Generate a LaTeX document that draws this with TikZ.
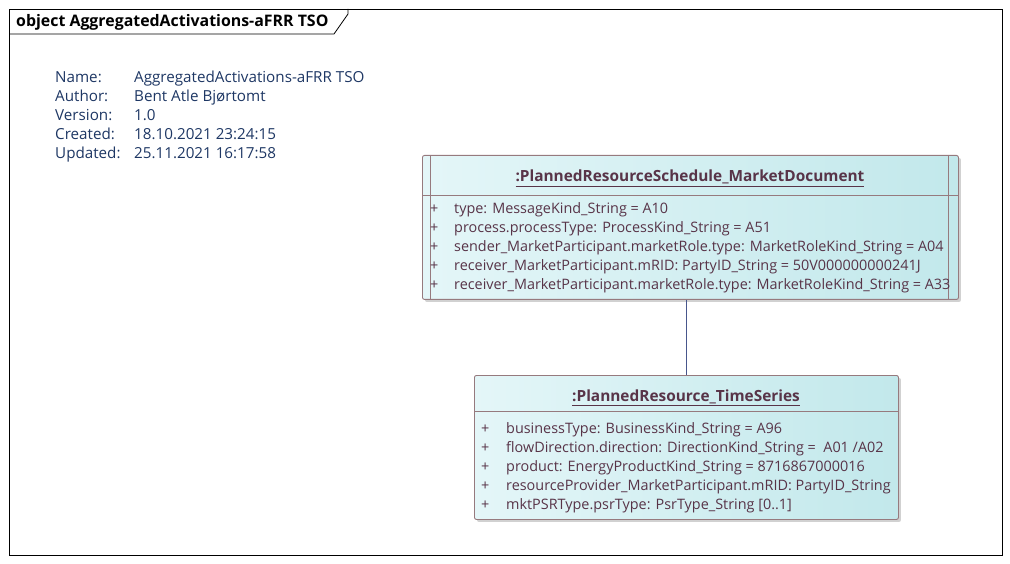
\documentclass[tikz,border=0pt]{standalone}
\usepackage{fontspec}
\setmainfont{Open Sans}
\usepackage{tikz}
\usetikzlibrary{positioning,calc,shadows}
\definecolor{metablue}{RGB}{30,55,100}
\definecolor{attrbrown}{RGB}{88,52,72}
\definecolor{boxedge}{RGB}{150,122,126}
\definecolor{boxleft}{RGB}{228,246,248}
\definecolor{boxright}{RGB}{194,232,235}
\definecolor{linkblue}{RGB}{72,86,140}
\tikzset{
  frame-title/.style={font=\fontsize{15.9}{18}\selectfont\bfseries, anchor=base west, inner sep=0pt},
  meta-text/.style={font=\fontsize{15.2}{18}\selectfont, text=metablue, anchor=base west, inner sep=0pt},
  object-box/.style={draw=boxedge, line width=0.9pt, rounded corners=2pt,
    left color=boxleft, right color=boxright, anchor=north west, inner sep=0pt,
    drop shadow={shadow xshift=2.5pt, shadow yshift=-2.5pt, fill=black!30, opacity=0.6}},
  object-title/.style={font=\fontsize{15.4}{18}\selectfont\bfseries, text=attrbrown, anchor=base, inner sep=0pt},
  attr-text/.style={font=\fontsize{14.4}{17}\selectfont, text=attrbrown, anchor=base west, inner sep=0pt},
  divider/.style={draw=boxedge, line width=0.9pt},
  link-line/.style={draw=linkblue, line width=0.8pt}
}

\begin{document}
\begin{tikzpicture}[x=1pt, y=-1pt]
\useasboundingbox (0,0) rectangle (1010,564);
% diagram frame with its tab
\draw[line width=0.8pt] (9,9) rectangle (1002,555);
\draw[line width=0.8pt] (9,34) -- (334,34) -- (348,14) -- (348,9);
\node[frame-title] (ftitle) at (16,27) {object AggregatedActivations-aFRR TSO};
% diagram properties
\foreach \lab/\val [count=\i] in {Name:/AggregatedActivations-aFRR TSO, Author:/Bent Atle Bjørtomt,
  Version:/1.0, Created:/18.10.2021 23:24:15, Updated:/25.11.2021 16:17:58}{
  \node[meta-text] (mlab\i) at (55,{82.5+19*(\i-1)}) {\lab};
  \node[meta-text] (mval\i) at (134,{82.5+19*(\i-1)}) {\val};
}
% market document object
\node[object-box, minimum width=536pt, minimum height=144pt] (doc) at (422,155) {};
\draw[divider] ($(doc.north west)+(0,40)$) -- ($(doc.north east)+(0,40)$);
\draw[divider] ($(doc.north west)+(8,0)$) -- ($(doc.south west)+(8,0)$);
\draw[divider] ($(doc.north east)+(-10,0)$) -- ($(doc.south east)+(-10,0)$);
\node[object-title] (doctitle) at (690,182) {\underline{:PlannedResourceSchedule\_MarketDocument}};
\foreach \txt [count=\i] in {{type: MessageKind\_String = A10},
  {process.processType: ProcessKind\_String = A51},
  {sender\_MarketParticipant.marketRole.type: MarketRoleKind\_String = A04},
  {receiver\_MarketParticipant.mRID: PartyID\_String = 50V000000000241J},
  {receiver\_MarketParticipant.marketRole.type: MarketRoleKind\_String = A33}}{
  \node[attr-text] (docp\i) at (430,{213.5+19*(\i-1)}) {+};
  \node[attr-text] (doca\i) at (454,{213.5+19*(\i-1)}) {\txt};
}
% time series object
\node[object-box, minimum width=424pt, minimum height=144pt] (ts) at (474,375) {};
\draw[divider] ($(ts.north west)+(0,36)$) -- ($(ts.north east)+(0,36)$);
\node[object-title] (tstitle) at (686,401) {\underline{:PlannedResource\_TimeSeries}};
\foreach \txt [count=\i] in {{businessType: BusinessKind\_String = A96},
  {flowDirection.direction: DirectionKind\_String =\ \ A01 /A02},
  {product: EnergyProductKind\_String = 8716867000016},
  {resourceProvider\_MarketParticipant.mRID: PartyID\_String},
  {mktPSRType.psrType: PsrType\_String [0..1]}}{
  \node[attr-text] (tsp\i) at (481,{433.5+19*(\i-1)}) {+};
  \node[attr-text] (tsa\i) at (506,{433.5+19*(\i-1)}) {\txt};
}
% association
\draw[link-line] (ts.north) -- (ts.north |- doc.south);
\end{tikzpicture}
\end{document}
